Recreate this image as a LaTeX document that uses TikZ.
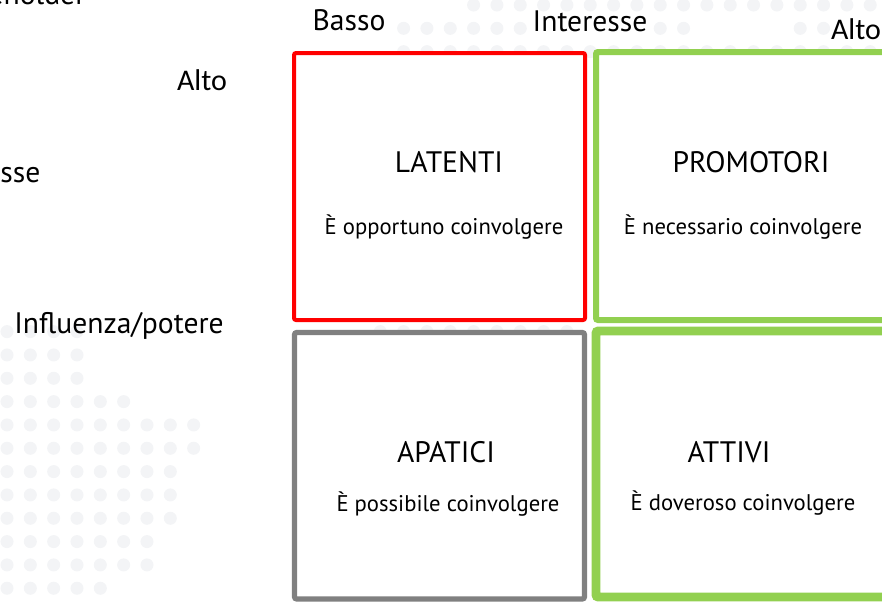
\documentclass[tikz,border=0pt]{standalone}
\usepackage{fontspec}
\setmainfont{PT Sans}
\newfontfamily\calibri{Carlito}
\definecolor{rosso}{RGB}{255,0,0}
\definecolor{verde}{RGB}{146,208,80}
\definecolor{grigio}{RGB}{128,128,128}
\definecolor{puntini}{RGB}{243,244,246}
\newcommand{\grande}{\fontsize{22.2}{26}\selectfont}
\newcommand{\piccolo}{\fontsize{17}{20}\selectfont}

\begin{document}
\begin{tikzpicture}[x=0.75pt,y=-0.75pt,
    cella/.style={fill=white,rounded corners=1.5pt},
    titolo/.style={anchor=base,font=\grande},
    nota/.style={anchor=base,font=\piccolo},
    alto/.style={anchor=base,font=\calibri\fontsize{22.5}{27}\selectfont}]
   \useasboundingbox (0,0) rectangle (882,601);
   % puntini di sfondo
   \foreach \j/\a/\b in {0/20/37,1/17/22,1/28/29,1/34/35,2/17/37,
                         14/0/3,14/16/24,15/0/3,16/0/3,17/0/5,18/0/8,19/0/8,
                         20/0/7,21/0/7,22/0/7,23/0/6,24/0/6,25/0/4}
     \foreach \i in {\a,...,\b}
       \fill[puntini] ({7+23.33*\i},{5+23.33*\j}) circle[radius=4.9pt];
   % i quattro quadranti
   \draw[cella,draw=rosso,line width=3pt] (294,53) rectangle (585,320);
   \draw[cella,draw=verde,line width=4.5pt] (596,52) rectangle (900,320);
   \draw[cella,draw=grigio,line width=3.8pt] (294.5,332.5) rectangle (584.5,599);
   \draw[cella,draw=verde,line width=6.5pt] (596,331) rectangle (900,597);
   % testi dei quadranti
   \node[titolo] (latenti) at (449,172) {LATENTI};
   \node[nota] (latentiNota) at (444,234) {È opportuno coinvolgere};
   \node[titolo] (promotori) at (751,172) {PROMOTORI};
   \node[nota] (promotoriNota) at (743,234) {È necessario coinvolgere};
   \node[titolo] (apatici) at (446,462) {APATICI};
   \node[nota] (apaticiNota) at (448,511) {È possibile coinvolgere};
   \node[titolo] (attivi) at (729,462) {ATTIVI};
   \node[nota] (attiviNota) at (743,510) {È doveroso coinvolgere};
   % assi
   \node[titolo] (basso) at (349,30) {Basso};
   \node[titolo] (interesse) at (590,31) {Interesse};
   \node[alto] (altoX) at (856,39) {Alto};
   \node[alto] (altoY) at (202,90) {Alto};
   \node[titolo,anchor=base east] (interesseY) at (45,182) {Interesse};
   \node[titolo] (influenza) at (119,333) {Influenza/potere};
   \node[titolo,anchor=base east] (stakeholder) at (90,4) {Stakeholder};
\end{tikzpicture}
\end{document}
